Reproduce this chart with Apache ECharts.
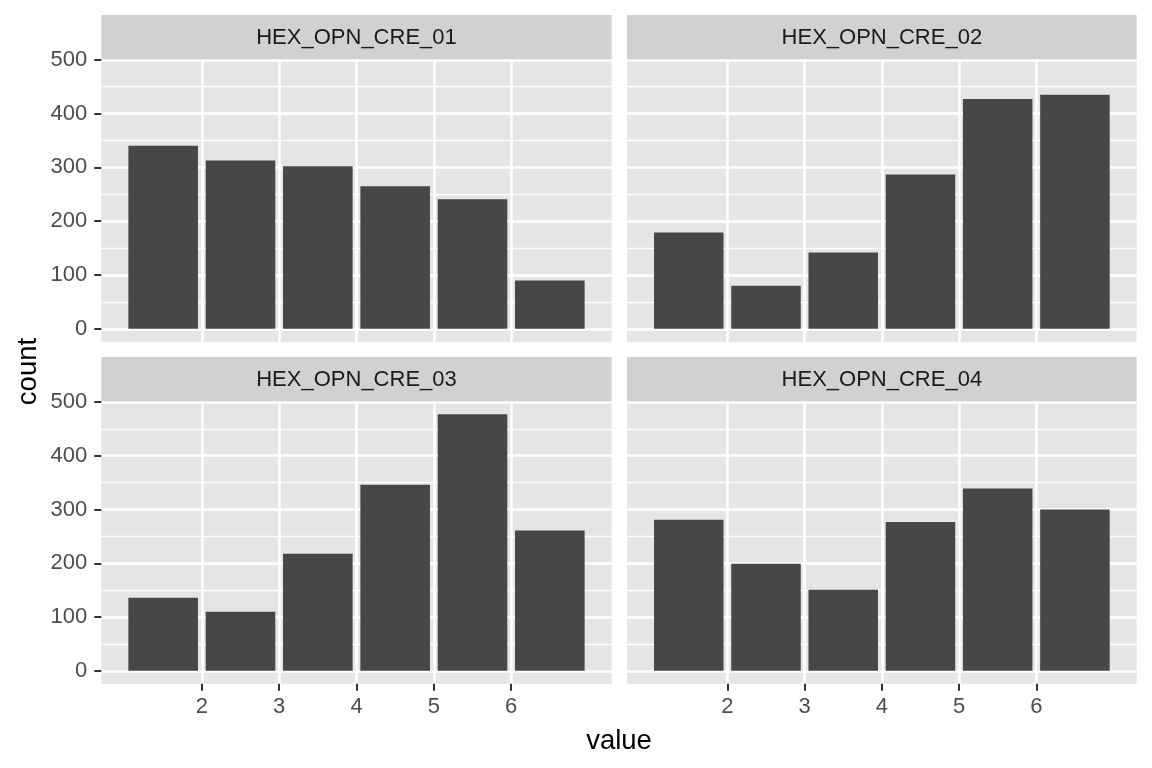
<!DOCTYPE html>
<html>
<head>
<meta charset="utf-8">
<script src="https://cdn.jsdelivr.net/npm/echarts@6/dist/echarts.min.js"></script>
<style>
html,body{margin:0;padding:0;background:#fff;}
#chart{width:1152px;height:768px;}
</style>
</head>
<body>
<div id="chart"></div>
<script>
// ---- data ----
var panelTitles = ["HEX_OPN_CRE_01", "HEX_OPN_CRE_02", "HEX_OPN_CRE_03", "HEX_OPN_CRE_04"];
var binStarts = [1, 2, 3, 4, 5, 6];
var counts01 = [340, 313, 302, 265, 241, 90];
var counts02 = [179, 80, 142, 287, 427, 435];
var counts03 = [136, 110, 218, 346, 477, 261];
var counts04 = [281, 199, 151, 277, 339, 300];
var xTicks = [2, 3, 4, 5, 6];
var yTicks = [0, 100, 200, 300, 400, 500];
var yMinorTicks = [50, 150, 250, 350, 450];
var xTitle = "value";
var yTitle = "count";

// ---- layout / style ----
var FONT = "'Liberation Sans', Arial, Helvetica, sans-serif";
var panelBg = "#E5E5E5";
var stripBg = "#D1D1D1";
var barColor = "#474747";
var allCounts = [counts01, counts02, counts03, counts04];
var dataMax = Math.max.apply(null, [].concat(counts01, counts02, counts03, counts04));
var yMin = -0.05 * dataMax, yMax = 1.05 * dataMax;
var xMin = 0.7, xMax = 7.3;

var cols = [{left: 101.3, width: 510.4}, {left: 627, width: 509.7}];
var rows = [{top: 59.3, height: 282.4, stripTop: 15}, {top: 401.5, height: 282.2, stripTop: 357}];
var stripH = 44.3;

var grids = [], xAxes = [], yAxes = [], series = [], graphics = [];

for (var p = 0; p < 4; p++) {
  var r = Math.floor(p / 2), c = p % 2;
  var col = cols[c], row = rows[r];
  grids.push({left: col.left, top: row.top, width: col.width, height: row.height,
    show: true, backgroundColor: panelBg, borderWidth: 0, containLabel: false});
  var showX = (r === 1), showY = (c === 0);
  xAxes.push({
    type: 'value', gridIndex: p, min: xMin, max: xMax, position: 'bottom',
    axisLine: {show: false, onZero: false},
    axisTick: {show: showX, customValues: xTicks, length: 7, lineStyle: {color: '#333333', width: 2}},
    axisLabel: {show: showX, customValues: xTicks, margin: 12, fontSize: 22, color: '#4D4D4D', fontFamily: FONT},
    splitLine: {show: true, lineStyle: {color: '#FFFFFF', width: 2.5}}
  });
  // major y axis
  yAxes.push({
    type: 'value', gridIndex: p, min: yMin, max: yMax, position: 'left',
    axisLine: {show: false, onZero: false},
    axisTick: {show: showY, customValues: yTicks, length: 7, lineStyle: {color: '#333333', width: 2}},
    axisLabel: {show: showY, customValues: yTicks, margin: 14, fontSize: 22, color: '#4D4D4D', fontFamily: FONT},
    splitLine: {show: true, lineStyle: {color: '#FFFFFF', width: 2.5}}
  });
  series.push({
    type: 'custom', xAxisIndex: p, yAxisIndex: 2 * p, silent: true, z: 5,
    data: binStarts.map(function (b, i) { return [b, b + 1, allCounts[p][i]]; }),
    renderItem: function (params, api) {
      var lo = api.value(0), hi = api.value(1), v = api.value(2);
      var inset = 0.05 * (hi - lo);
      var p0 = api.coord([lo + inset, 0]);
      var p1 = api.coord([hi - inset, v]);
      return {type: 'rect', shape: {x: p0[0], y: p1[1], width: p1[0] - p0[0], height: p0[1] - p1[1]},
        style: {fill: barColor}};
    }
  });
  // strip
  graphics.push({type: 'rect', left: col.left, top: row.stripTop, z: 10,
    shape: {width: col.width, height: stripH}, style: {fill: stripBg}});
  graphics.push({type: 'text', x: col.left + col.width / 2, y: row.stripTop + stripH / 2 + 1, z: 11,
    style: {text: panelTitles[p], fill: '#1A1A1A', font: '22px ' + FONT, textAlign: 'center', textVerticalAlign: 'middle'}});
}
// minor y axes (gridlines only)
for (var q = 0; q < 4; q++) {
  yAxes.splice(2 * q + 1, 0, {
    type: 'value', gridIndex: q, min: yMin, max: yMax, position: 'left',
    axisLine: {show: false, onZero: false}, axisTick: {show: false, customValues: yMinorTicks},
    axisLabel: {show: false, customValues: yMinorTicks},
    splitLine: {show: true, lineStyle: {color: '#FFFFFF', width: 1.3}}
  });
}
// axis titles
graphics.push({type: 'text', x: 619, y: 741, z: 11,
  style: {text: xTitle, fill: '#000000', font: '27.5px ' + FONT, textAlign: 'center', textVerticalAlign: 'middle'}});
graphics.push({type: 'text', x: 28, y: 371.5, rotation: Math.PI / 2, z: 11,
  style: {text: yTitle, fill: '#000000', font: '27.5px ' + FONT, textAlign: 'center', textVerticalAlign: 'middle'}});

var chart = echarts.init(document.getElementById('chart'), null, {renderer: 'canvas'});
chart.setOption({
  animation: false,
  backgroundColor: '#FFFFFF',
  grid: grids, xAxis: xAxes, yAxis: yAxes, series: series, graphic: graphics
});
</script>
</body>
</html>
